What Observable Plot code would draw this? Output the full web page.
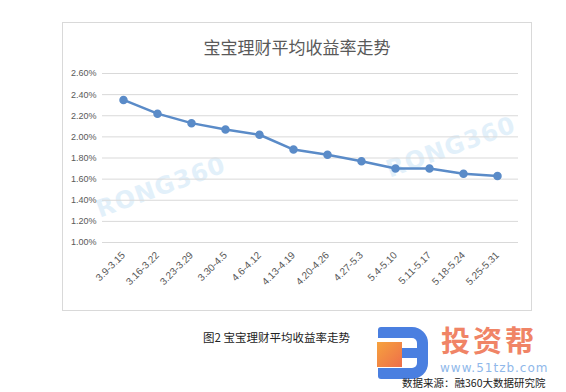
<!DOCTYPE html>
<html><head><meta charset="utf-8">
<script src="https://cdn.jsdelivr.net/npm/d3@7"></script>
<script src="https://cdn.jsdelivr.net/npm/@observablehq/plot@0.6"></script>
<style>
html,body{margin:0;padding:0;background:#fff;}
#page{position:relative;width:566px;height:392px;overflow:hidden;font-family:"Noto Sans CJK SC","Noto Sans",sans-serif;}
#frame{position:absolute;left:62px;top:22px;width:468px;height:287px;border:1px solid #d9d9d9;background:#fff;}
#title{position:absolute;left:0;top:12px;width:100%;text-align:center;font-size:17px;color:#595959;line-height:24px;}
#plot{position:absolute;left:0;top:37px;}
.wm{position:absolute;color:#bfe0f5;opacity:0.45;font-family:"DejaVu Sans",sans-serif;font-weight:bold;font-size:24px;transform:rotate(-20deg);letter-spacing:1px;}
#cap{position:absolute;left:203px;top:329px;font-size:11.5px;color:#222;}
#brand{position:absolute;left:441px;top:323px;font-size:29px;font-weight:bold;color:#f08466;letter-spacing:3px;line-height:32px;}
#url{position:absolute;left:440px;top:362px;font-size:12px;line-height:13px;color:#8fb8ea;font-family:"DejaVu Sans",sans-serif;letter-spacing:1px;}
#src{position:absolute;left:402px;top:376px;font-size:10.5px;line-height:14px;color:#222;}
#logo{position:absolute;left:384px;top:327px;width:44px;height:52px;border:11px solid #4a7fe0;border-left:none;border-radius:2px 16px 16px 2px;box-sizing:border-box;}
#logomid{position:absolute;left:398px;top:348px;width:24px;height:10px;background:#4a7fe0;}
#logotop{position:absolute;left:378px;top:327px;width:10px;height:11px;background:#4a7fe0;border-radius:3px 0 0 0;}
#logobot{position:absolute;left:378px;top:368px;width:10px;height:11px;background:#4a7fe0;border-radius:0 0 0 3px;}
#logoin{position:absolute;left:377px;top:342px;width:25px;height:25px;background:linear-gradient(135deg,#f6a23e,#ee6e4a);}
</style></head>
<body><div id="page">
<div id="frame">
<div id="title"></div>
<div class="wm" style="left:30px;top:150px;">RONG360</div>
<div class="wm" style="left:320px;top:110px;">RONG360</div>
<div id="plot"></div>
</div>
<div id="cap"></div>
<div id="logo"></div><div id="logomid"></div><div id="logotop"></div><div id="logobot"></div><div id="logoin"></div>
<div id="brand">投资帮</div>
<div id="url">www.51tzb.com</div>
<div id="src">数据来源：融360大数据研究院</div>
</div>
<script>
const titleText = "宝宝理财平均收益率走势";
const captionText = "图2 宝宝理财平均收益率走势";
const weeks = ["3.9-3.15","3.16-3.22","3.23-3.29","3.30-4.5","4.6-4.12","4.13-4.19","4.20-4.26","4.27-5.3","5.4-5.10","5.11-5.17","5.18-5.24","5.25-5.31"];
const rates = [2.35, 2.22, 2.13, 2.07, 2.02, 1.88, 1.83, 1.77, 1.70, 1.70, 1.65, 1.63];
const yTicks = [1.0, 1.2, 1.4, 1.6, 1.8, 2.0, 2.2, 2.4, 2.6];

document.getElementById("title").textContent = titleText;
document.getElementById("cap").textContent = captionText;

const data = weeks.map((w, i) => ({week: w, rate: rates[i]}));
const color = "#5a8bc8";

const chart = Plot.plot({
  width: 468,
  height: 250,
  marginLeft: 39,
  marginRight: 13,
  marginTop: 13,
  marginBottom: 68,
  style: {fontFamily: "'Liberation Sans','DejaVu Sans',sans-serif", fontSize: "9px", color: "#595959", background: "transparent"},
  x: {type: "band", domain: weeks, padding: 0, label: null},
  y: {domain: [1.0, 2.6], ticks: yTicks, tickFormat: d => d.toFixed(2) + "%", tickSize: 0, tickPadding: 6, label: null},
  marks: [
    Plot.gridY(yTicks, {stroke: "#d9d9d9", strokeOpacity: 1, strokeWidth: 1}),
    Plot.axisX({tickRotate: -45, tickSize: 0, tickPadding: 11, fontSize: 10, label: null}),
    Plot.line(data, {x: "week", y: "rate", stroke: color, strokeWidth: 2.5}),
    Plot.dot(data, {x: "week", y: "rate", r: 3.5, fill: color, stroke: color})
  ]
});
document.getElementById("plot").appendChild(chart);
</script>
</body></html>
